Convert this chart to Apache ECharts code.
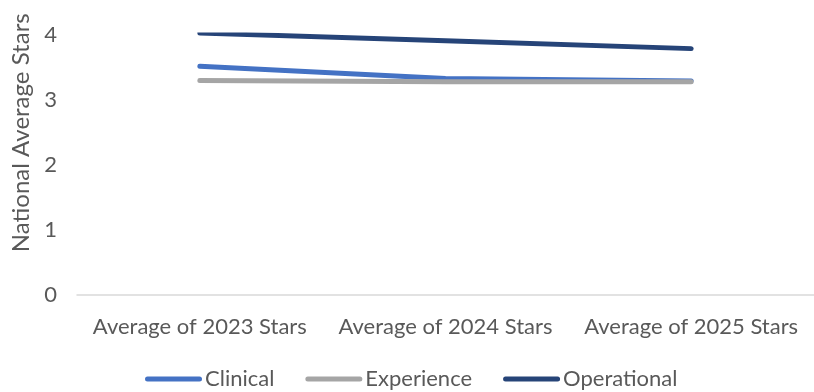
<!DOCTYPE html>
<html>
<head>
<meta charset="utf-8">
<script src="https://cdn.jsdelivr.net/npm/echarts@6/dist/echarts.min.js"></script>
<style>html,body{margin:0;padding:0;background:#fff}#c{width:814px;height:392px}</style>
</head>
<body>
<div id="c"></div>
<script>
const categories = ["Average of 2023 Stars", "Average of 2024 Stars", "Average of 2025 Stars"];
const clinical = [3.52, 3.33, 3.29];
const experience = [3.30, 3.28, 3.28];
const operational = [4.03, 3.91, 3.79];
const yTicks = [0, 1, 2, 3, 4];

const FONT = 'Lato';
const TXT = '#595959';
const ICON = 'path://M2.5,0 H54.5 A2.5,2.5 0 0 1 54.5,5 H2.5 A2.5,2.5 0 0 1 2.5,0 Z';
const chart = echarts.init(document.getElementById('c'), null, {renderer: 'canvas'});
function mk(name, data, color) {
  return {
    name, type: 'line', data, symbol: 'none', showSymbol: false,
    lineStyle: {width: 5, color, cap: 'round', join: 'round'},
    itemStyle: {color}
  };
}
chart.setOption({
  animation: false,
  textStyle: {fontFamily: FONT, color: TXT},
  grid: {left: 77, width: 744, top: 35, bottom: 97.5, containLabel: false},
  xAxis: {
    type: 'category', data: categories, boundaryGap: true,
    axisLine: {lineStyle: {color: '#D9D9D9', width: 1.5}},
    axisTick: {show: false},
    axisLabel: {color: TXT, fontSize: 22, fontFamily: FONT, margin: 21, interval: 0}
  },
  yAxis: {
    type: 'value', min: yTicks[0], max: yTicks[yTicks.length - 1], interval: 1,
    name: 'National Average Stars', nameLocation: 'middle', nameGap: 41,
    nameTextStyle: {color: TXT, fontSize: 24, fontFamily: FONT, padding: [0, 0, 0, 64]},
    axisLine: {show: false}, axisTick: {show: false},
    splitLine: {show: false},
    axisLabel: {color: TXT, fontSize: 22, fontFamily: FONT, margin: 20}
  },
  legend: {
    top: 363, left: 140, itemWidth: 57, itemHeight: 5, itemGap: 31,
    icon: ICON,
    textStyle: {color: TXT, fontSize: 22, fontFamily: FONT, padding: [0,0,0,-2]},
    data: ['Clinical', 'Experience', 'Operational']
  },
  series: [
    mk('Clinical', clinical, '#4472C4'),
    mk('Experience', experience, '#A5A5A5'),
    mk('Operational', operational, '#264478')
  ]
});
</script>
</body>
</html>
